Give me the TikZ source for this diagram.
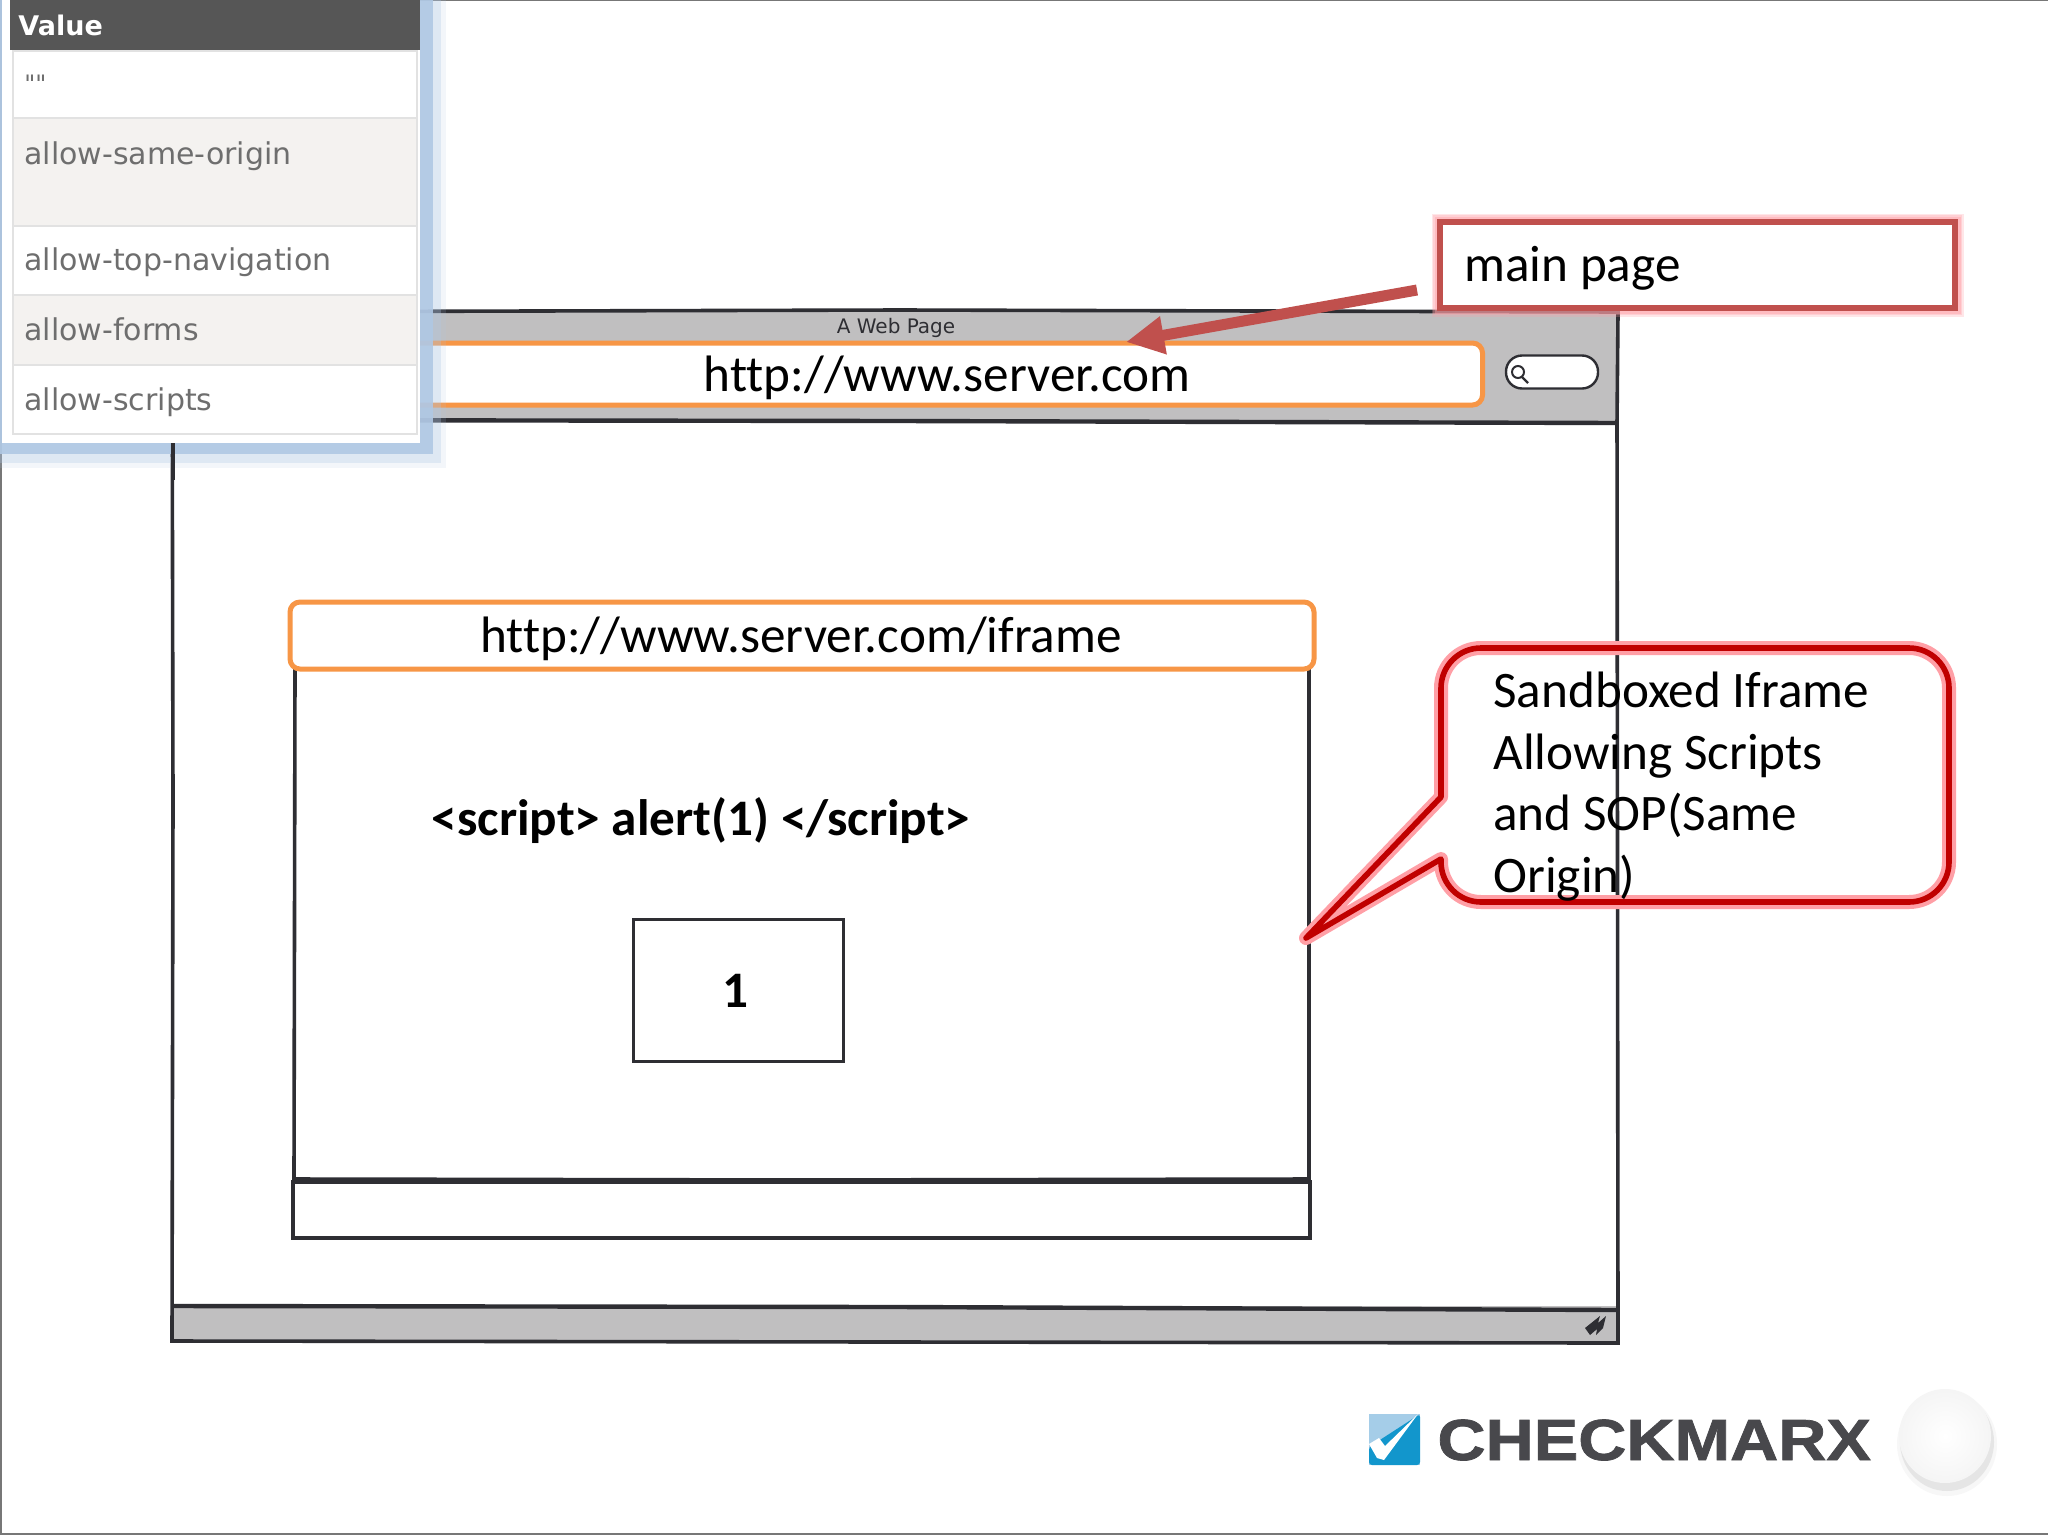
\documentclass[tikz,border=0pt]{standalone}
\usepackage{fontspec}
\setmainfont[Ligatures=NoCommon]{Carlito}
\newfontfamily\tablefont{DejaVu Sans}
\newfontfamily\logofont[FakeStretch=1.15,BoldFont={Liberation Sans Bold},BoldFeatures={FakeBold=1.3}]{Liberation Sans}
\usetikzlibrary{arrows.meta,shadings}
\definecolor{ink}{HTML}{2E2E33}
\definecolor{barfill}{HTML}{C0BFC0}
\definecolor{orangeline}{HTML}{F79646}
\definecolor{redsoft}{HTML}{C0504D}
\definecolor{reddeep}{HTML}{C00000}
\definecolor{glowpink}{HTML}{FF9FA6}
\definecolor{tblshadow}{HTML}{B0C8E4}
\definecolor{rowalt}{HTML}{F4F2F0}
\definecolor{rowline}{HTML}{E2E2E2}
\definecolor{headfill}{HTML}{565656}
\definecolor{tabletext}{HTML}{6E6E6E}
\definecolor{logotext}{HTML}{48484C}
\definecolor{logolight}{HTML}{A5CDE8}
\definecolor{logodark}{HTML}{1296CC}
\definecolor{frameline}{HTML}{777777}
\tikzset{
  sketch/.style={draw=ink,line width=1.8pt},
  urlbox/.style={draw=orangeline,line width=2.5pt,fill=white,rounded corners=5pt,inner sep=0pt},
  slidetext/.style={font=\fontsize{25.6}{30.7}\selectfont,text=black,inner sep=0pt},
  boldtext/.style={font=\fontsize{25.6}{30.7}\bfseries\selectfont,text=black,inner sep=0pt},
  rowcell/.style={draw=rowline,line width=0.8pt,anchor=north west,inner sep=0pt,minimum width=404pt*0.5},
  rowtext/.style={font=\tablefont\fontsize{15}{18}\selectfont,text=tabletext,inner sep=0pt,anchor=base west}
}
\begin{document}
\begin{tikzpicture}[x=0.5pt,y=-0.5pt]
\useasboundingbox (0,0) rectangle (2048,1536);
\fill[white] (0,0) rectangle (2048,1536);
\draw[frameline,line width=1pt] (1,0) -- (1,1534) -- (2048,1534);
\draw[frameline,line width=0.6pt] (0,0.5) -- (2048,0.5);

% browser window
\fill[barfill] (172,311) rectangle (1617,422);
\fill[barfill] (172,1306) rectangle (1618,1343);
\draw[sketch] (172,312) -- (900,310) -- (1618,312) -- (1617,422) -- (1618,1343) -- (900,1342) -- (172,1341) -- (173,800) -- cycle;
\draw[sketch,line width=2.2pt] (172,420) -- (900,421) -- (1618,423);
\draw[sketch,line width=2.2pt] (172,1306) -- (900,1307) -- (1618,1310);
\node[font=\tablefont\fontsize{10}{12}\selectfont,text=ink,inner sep=0pt] (title) at (896,328) {A Web Page};
\node[urlbox,minimum width=1100pt*0.5,minimum height=62pt*0.5,anchor=east] (addr) at (1485,374) {};
\node[slidetext] (addrtext) at (947,378) {http://www.server.com};
% search field
\node[draw=ink,line width=1.2pt,fill=white,rounded corners=8pt,minimum width=92pt*0.5,minimum height=33pt*0.5,inner sep=0pt] (search) at (1552,372) {};
\draw[ink,line width=1pt] (1518,372) circle[radius=6];
\draw[ink,line width=1.2pt] (1522,377) -- (1528,383);
% resize grip
\fill[ink] (1585,1328) -- (1600,1316) -- (1598,1323) -- (1606,1316) -- (1603,1328) -- (1596,1335) -- (1597,1329) -- (1590,1335) -- cycle;

% iframe
\draw[sketch] (295,669) -- (294,1179) -- (800,1180) -- (1309,1179) -- (1309,669);
\node[draw=ink,line width=1.8pt,fill=white,minimum width=1017pt*0.5,minimum height=56pt*0.5,inner sep=0pt] (status) at (801.5,1210) {};
\node[urlbox,minimum width=1024pt*0.5,minimum height=67pt*0.5] (iframeurl) at (802,635.5) {};
\node[slidetext] (iframetext) at (801,638.5) {http://www.server.com/iframe};
\node[boldtext] (script) at (701,820.5) {<script> alert(1) </script>};
\node[draw=ink,line width=1.5pt,fill=white,minimum width=210pt*0.5,minimum height=142pt*0.5,inner sep=0pt] (alertbox) at (738,990) {};
\node[boldtext] (one) at (735,991) {1};

% value table shadow
\fill[tblshadow,opacity=.15] (0,0) rectangle (446,468);
\fill[tblshadow,opacity=.3] (0,0) rectangle (441,463);
\fill[tblshadow,opacity=.9] (0,0) rectangle (433,454);
\draw[ink,line width=1.8pt] (173,443) -- (173,480);
% value table
\fill[white] (2,0) rectangle (420,443);
\node[fill=headfill,anchor=north west,inner sep=0pt,minimum width=410pt*0.5,minimum height=50pt*0.5] (head) at (10,0) {};
\node[font=\tablefont\bfseries\fontsize{13.5}{18}\selectfont,text=white,inner sep=0pt,anchor=base west] (headtext) at (18,36) {Value};
\node[rowcell,minimum height=67pt*0.5] (r0) at (12,50) {};
\node[rowcell,fill=rowalt,minimum height=108pt*0.5] (r1) at (12,117) {};
\node[rowcell,minimum height=69pt*0.5] (r2) at (12,225) {};
\node[rowcell,fill=rowalt,minimum height=70pt*0.5] (r3) at (12,294) {};
\node[rowcell,minimum height=69pt*0.5] (r4) at (12,364) {};
\node[rowtext,font=\tablefont\fontsize{12}{14}\selectfont] (t0) at (24,92) {""};
\node[rowtext] (t1) at (24,164) {allow-same-origin};
\node[rowtext] (t2) at (24,270) {allow-top-navigation};
\node[rowtext] (t3) at (24,340) {allow-forms};
\node[rowtext] (t4) at (24,410) {allow-scripts};

% main page label
\foreach \w/\o in {8.5/.25,7/.3,5.5/.4}
  \draw[glowpink,line width=\w pt,opacity=\o] (1440,222) rectangle (1955,308);
\node[draw=redsoft,line width=2.8pt,fill=white,minimum width=515pt*0.5,minimum height=86pt*0.5,inner sep=0pt] (mainpage) at (1697.5,265) {};
\node[slidetext,anchor=west] (maintext) at (1464,268.5) {main page};
\coordinate (arrowfrom) at (1417,290);
\coordinate (arrowto) at (1126,342);
\draw[redsoft,line width=5.5pt,-{Triangle[length=19pt,width=18pt]}] (arrowfrom) -- (arrowto);

% callout
\foreach \w/\o/\c in {7/.2/glowpink,5.5/.3/glowpink,4.2/.5/glowpink,2.8/1/reddeep}
  \draw[\c,line width=\w pt,line join=round]
    (1441,797) [rounded corners=20pt] -- (1441,648) -- (1949,648) -- (1949,902) -- (1441,902) [sharp corners] -- (1441,859) -- (1306,938) -- cycle;
\node[slidetext,align=left,anchor=north west] (callout) at (1493,672) {Sandboxed Iframe\\Allowing Scripts\\and SOP(Same\\Origin)};

% logo
\fill[logolight] (1369,1414) rectangle (1420,1465);
\fill[logodark,rounded corners=1.5pt] (1420,1414) -- (1420,1465) -- (1369,1465) -- (1369,1447) -- cycle;
\fill[white] (1369,1444) -- (1379,1438) -- (1385,1446) -- (1418,1414) -- (1384,1460) -- (1377,1458) -- cycle;
\node[font=\logofont\bfseries\fontsize{29}{32}\selectfont,text=logotext,inner sep=0pt,anchor=base west] (logo) at (1437,1460) {CHECKMARX};
\fill[black!25,opacity=.12] (1947,1444) ellipse[x radius=50,y radius=52];
\fill[black!30,opacity=.25] (1947,1442) ellipse[x radius=47,y radius=49];
\shade[inner color=white,outer color=black!4] (1945,1436) ellipse[x radius=46,y radius=47];
\end{tikzpicture}
\end{document}
